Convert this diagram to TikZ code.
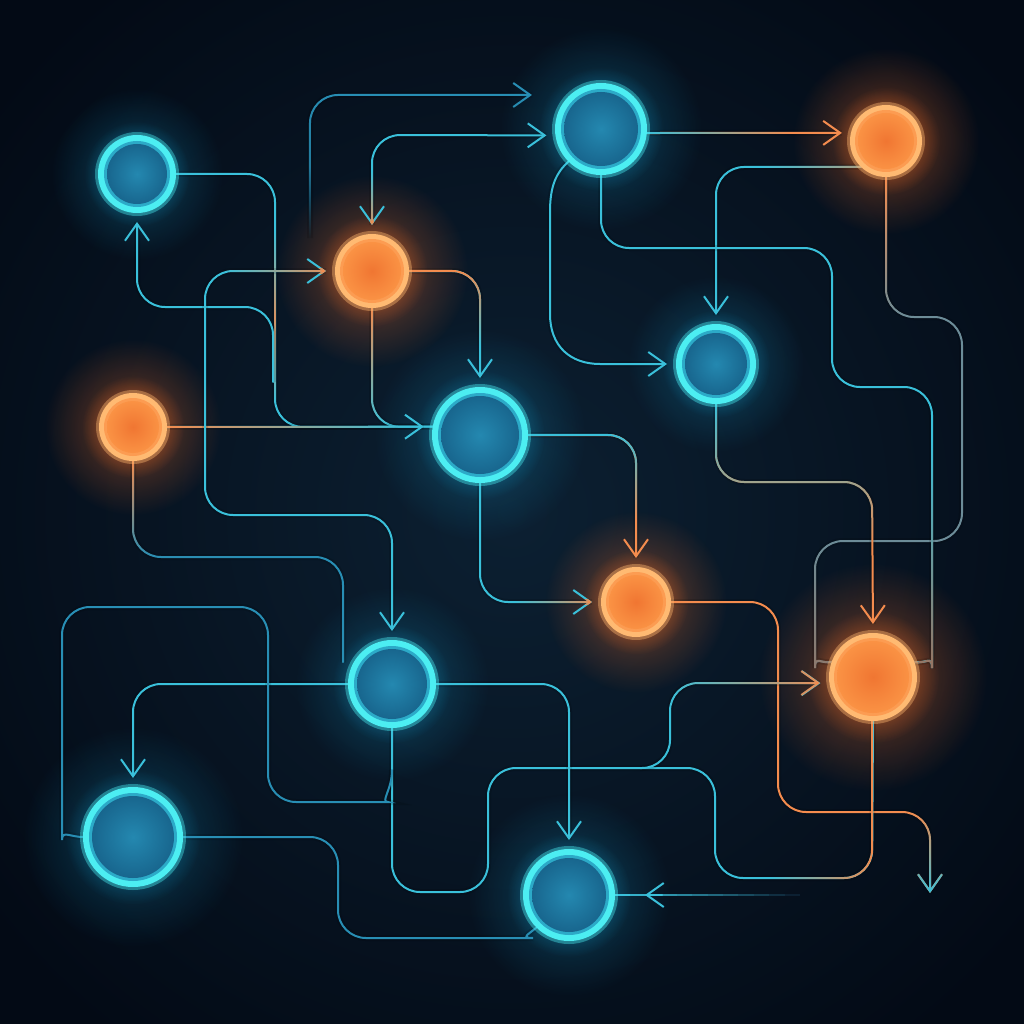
\documentclass[tikz,border=0pt]{standalone}
\usetikzlibrary{arrows.meta,fadings,calc}
\definecolor{bgin}{RGB}{12,32,50}
\definecolor{bgout}{RGB}{3,10,21}
\definecolor{cy}{RGB}{58,192,218}
\definecolor{cyd}{RGB}{40,142,180}
\definecolor{cyring}{RGB}{76,238,242}
\definecolor{cyband}{RGB}{44,170,200}
\definecolor{cyin}{RGB}{36,136,176}
\definecolor{cyout}{RGB}{24,102,142}
\definecolor{cyglow}{RGB}{22,170,220}
\definecolor{orl}{RGB}{244,140,78}
\definecolor{orring}{RGB}{255,186,114}
\definecolor{orband}{RGB}{252,156,82}
\definecolor{orin}{RGB}{240,118,50}
\definecolor{orout}{RGB}{250,146,68}
\definecolor{orglow}{RGB}{244,110,40}
\definecolor{gry}{RGB}{108,140,152}
\definecolor{tanl}{RGB}{150,118,100}
\tikzfading[name=fTop, top color=transparent!0, bottom color=transparent!100]
\tikzfading[name=fTopB, top color=transparent!0, bottom color=transparent!100, middle color=transparent!15]
\tikzfading[name=fBot, top color=transparent!100, bottom color=transparent!0]
\tikzfading[name=fLeft, left color=transparent!0, right color=transparent!100]
\tikzfading[name=fRight, left color=transparent!100, right color=transparent!0]
\tikzfading[name=fMidV, top color=transparent!100, bottom color=transparent!100, middle color=transparent!0]
\tikzfading[name=glowfade, inner color=transparent!0, outer color=transparent!100]
\newcommand\gline[4]{\foreach \i in {0,...,11}{\pgfmathsetmacro\pa{\i/12}\pgfmathsetmacro\pb{(\i+1)/12}\pgfmathtruncatemacro\mx{100-100*\i/11}\draw[line width=2pt, #3!\mx!#4] ($#1!\pa!#2$) -- ($#1!\pb!#2$);}}
\begin{document}
\begin{tikzpicture}[x=1pt,y=-1pt,
  hub/.style={circle,inner sep=0pt,outer sep=0pt},
  wire/.style={line width=2pt,rounded corners=28pt,line cap=round,preaction={draw,line width=6pt,opacity=0.13,arrows=-}},
  wireo/.style={line width=2pt,rounded corners=28pt,line cap=round},
  arr/.style={-{Straight Barb[length=17pt,width=24pt]}},
  arrs/.style={{Straight Barb[length=17pt,width=24pt]}-},
  arrb/.style={{Straight Barb[length=17pt,width=24pt]}-{Straight Barb[length=17pt,width=24pt]}},
  gap/.style={shorten >=9pt},
  gaps/.style={shorten <=9pt}]
\useasboundingbox (0,0) rectangle (1024,1024);
\shade[inner color=bgin, outer color=bgout] (-150,-150) rectangle (1174,1174);
% named nodes (hubs)
\foreach \n/\x/\y/\d in {b1/137/174/78, b2/601/129/92, o1/886/141/72, o2/372/271/74, b3/716/364/80, o3/133/427/68, b4/480/435/96, o4/636/602/70, b5/392/684/88, o5/873/677/88, b6/133/837/100, b7/569/895/92}
  {\node[hub, minimum size=\d pt] (\n) at (\x,\y) {};}
\coordinate (j1) at (273,382);
\coordinate (f2) at (310,238);
\coordinate (f3) at (532,95);
\coordinate (f4) at (930,893);
\coordinate (f5) at (800,895);
\coordinate (j2) at (640,768);
\coordinate (j3) at (392,770);
\coordinate (f6) at (343,662);
% glows
\foreach \n/\r in {b1/39, b2/46, b3/40, b4/48, b5/44, b6/50, b7/46}{
  \fill[cyglow, path fading=glowfade, opacity=0.32] (\n) circle ({2.2*\r});
  \fill[cyglow, path fading=glowfade, opacity=0.65] (\n) circle ({1.35*\r});
}
\foreach \n/\r in {o1/36, o2/37, o3/34, o4/35, o5/44}{
  \fill[orglow, path fading=glowfade, opacity=0.45] (\n) circle ({2.6*\r});
  \fill[orglow, path fading=glowfade, opacity=0.75] (\n) circle ({1.5*\r});
}
% connectors
% B1 east -> B4
\draw[wire, cy] (b1.east) -- (275,174) -- (275,427) -- (b4.170);
\draw[wireo, orl, path fading=fMidV, opacity=0.85] (275,232) -- (275,402);
% back up to B1 bottom
\draw[wire, cy, arr, gap] (j1) -- (273,307) -- (137,307) -- (b1.south);
% O2 bottom -> B4
\draw[wire, cy] (o2.south) -- (372,427) -- (b4.170);
\draw[wireo, orl, path fading=fTop] (372,308) -- (372,427) -- (415,427);
% O3 -> B4
\draw[wire, cy, arr, gap] (o3.east) -- (b4.170);
\draw[wireo, orl, path fading=fLeft] (167,427) -- (405,427);
% top free line
\draw[wire, cyd, arr, path fading=fTopB] (f2) -- (310,95) -- (f3);
% O2 top <-> B2 left
\draw[wire, cy, arrb, gap, gaps] (o2.north) -- (372,135) -- (b2.188);
\draw[wireo, orl, arrs, gaps, path fading=fBot] (372,234) -- (372,172);
% O2 left <-> B5 top
\draw[wire, cy, arrb, gap, gaps] (o2.west) -- (205,271) -- (205,515) -- (392,515) -- (b5.north);
\draw[wireo, orl, arrs, gaps, path fading=fRight] (335,271) -- (225,271);
% O2 right -> B4 top
\draw[wire, cy, arr, gap] (o2.east) -- (480,271) -- (b4.north);
\draw[wireo, orl, path fading=fTop] (409,271) -- (480,271) -- (480,345);
% B4 right -> O4 top
\draw[wire, orl, arr, gap] (b4.east) -- (636,435) -- (o4.north);
\draw[wireo, cy, path fading=fTop] (528,435) -- (636,435) -- (636,520);
% B4 bottom -> O4 left
\draw[wire, cy, arr, gap] (b4.south) -- (480,602) -- (o4.west);
\draw[wireo, orl, arr, gap, path fading=fRight] (515,602) -- (601,602);
% B2 -> O1
\draw[wire, orl, arr, gap] (b2.-5) -- (o1.167);
\draw[wireo, cy, path fading=fLeft] (647,133) -- (790,133);
% O1 -> B3 top
\draw[wire, cy, arr, gap] (o1.226) -- (716,167) -- (b3.north);
\draw[wireo, orl, path fading=fRight, opacity=0.6] (861,167) -- (760,167);
% O1 bottom -> O5 upper left
\draw[wire, gry] (o1.south) -- (886,317) -- (962,317) -- (962,541) -- (815,541) -- (815,640) .. controls (815,655) and (820,664) .. (o5.160);
\draw[wireo, orl, path fading=fTop] (886,177) -- (886,317) -- (925,317);
\draw[wireo, tanl, path fading=fBot, opacity=0.8] (900,541) -- (815,541) -- (815,640) .. controls (815,655) and (820,664) .. (832,662);
% B2 bottom -> O5 right
\draw[wire, cy] (b2.south) -- (601,248) -- (832,248) -- (832,387) -- (932,387) -- (932,640) .. controls (932,655) and (926,664) .. (o5.20);
\draw[wireo, tanl, path fading=fBot] (932,440) -- (932,640) .. controls (932,655) and (926,664) .. (914,662);
% B3 bottom -> O5 top
\draw[wire, orl, arr, gap] (b3.south) -- (716,482) -- (872,482) -- (o5.north);
\draw[wireo, cy, path fading=fTop] (716,404) -- (716,482) -- (872,482) -- (872,545);
% B2 lower left -> B3 left
\draw[wire, cy, arr, gap, sharp corners] (b2.225) .. controls (556,173) and (550,186) .. (550,212) -- (550,314) .. controls (550,346) and (570,364) .. (600,364) -- (b3.west);
% O4 right -> free arrow
\draw[wire, orl, arr] (o4.east) -- (778,602) -- (778,812) -- (930,812) -- (f4);
\draw[wireo, cy, arr, path fading=fBot] (860,812) -- (930,812) -- (930,893);
% O5 bottom -> B5 bottom
\draw[wire, cy] (o5.south) -- (872,878) -- (715,878) -- (715,768) -- (488,768) -- (488,892) -- (392,892) -- (b5.south);
\draw[wireo, orl, path fading=fRight] (872,721) -- (872,878) -- (770,878);
% branch to O5 left
\draw[wire, cy, arr, gap] (j2) -- (670,768) -- (670,683) -- (o5.188);
\draw[wireo, orl, arr, gap, path fading=fRight] (670,713) -- (670,683) -- (829,683);
% B5 -> B7 top
\draw[wire, cy, arr, gap] (b5.east) -- (569,684) -- (b7.north);
% free -> B7 right
\gline{(b7.east)}{(f5)}{cy}{bgin}
\draw[wireo, cy, arr] (662,895) -- (645,895);
% B6 -> B7 lower left
\draw[wire, cyd] (b6.east) -- (338,837) -- (338,938) -- (505,938) .. controls (520,938) and (529,934) .. (b7.225);
% B5 -> B6 top
\draw[wire, cy, arr, gap] (b5.west) -- (133,684) -- (b6.north);
% B6 loop -> B5 bottom
\draw[wire, cyd] (b6.west) .. controls (70,837) and (62,830) .. (62,812) -- (62,607) -- (268,607) -- (268,802) -- (360,802) .. controls (380,802) and (392,790) .. (j3);
% O3 bottom -> toward B5
\draw[wire, cyd] (o3.south) -- (133,557) -- (343,557) -- (f6);
\draw[wireo, orl, path fading=fTop] (133,461) -- (133,557) -- (235,557);
% rings
\foreach \n/\r in {b1/39, b2/46, b3/40, b4/48, b5/44, b6/50, b7/46}{
  \draw[cyring, opacity=0.4, line width=4pt] (\n) circle ({\r+1});
  \fill[cyring] (\n) circle (\r);
  \fill[cyband] (\n) circle ({\r-6});
  \shade[inner color=cyin, outer color=cyout] (\n) circle ({\r-9});
}
\foreach \n/\r in {o1/36, o2/37, o3/34, o4/35, o5/44}{
  \draw[orring, opacity=0.4, line width=4pt] (\n) circle ({\r+1});
  \fill[orring] (\n) circle (\r);
  \fill[orband] (\n) circle ({\r-5});
  \shade[inner color=orin, outer color=orout] (\n) circle ({\r-8});
}
\end{tikzpicture}
\end{document}
